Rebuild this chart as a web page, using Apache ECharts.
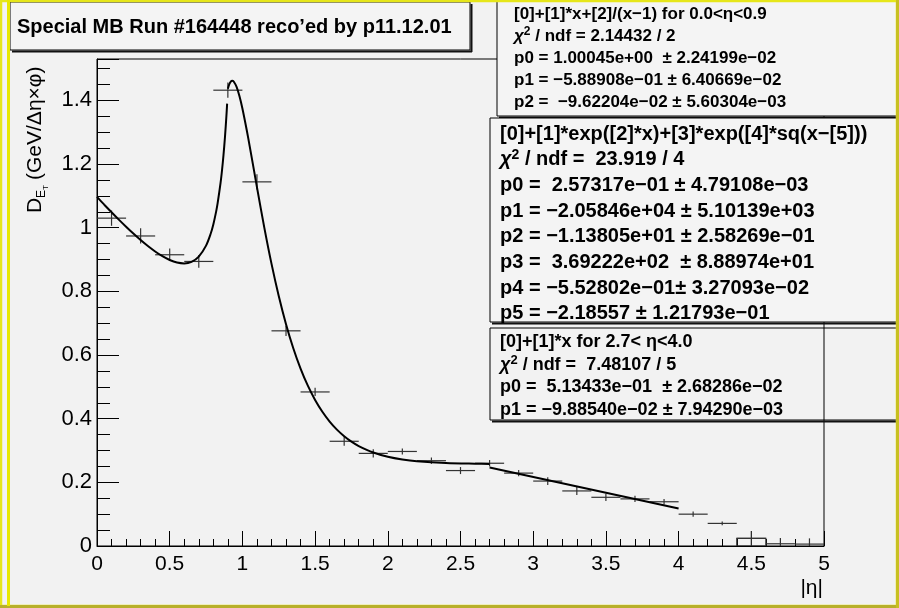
<!DOCTYPE html>
<html><head><meta charset="utf-8">
<script src="https://cdn.jsdelivr.net/npm/echarts@6/dist/echarts.min.js"></script>
<style>html,body{margin:0;padding:0;background:#f2f2f2;}#c{width:899px;height:608px;}</style>
</head><body><div id="c"></div>
<script>
// ---- data ----
const binCenters = [0.1,0.3,0.5,0.7,0.9,1.1,1.3,1.5,1.7,1.9,2.1,2.3,2.5,2.7,2.9,3.1,3.3,3.5,3.7,3.9,4.1,4.3,4.5,4.7,4.9];
const binValues  = [1.03,0.974,0.915,0.894,1.432,1.144,0.676,0.484,0.329,0.291,0.297,0.268,0.237,0.26,0.229,0.204,0.173,0.153,0.148,0.139,0.10,0.071,0.024,0.007,0.006];
const binErrors  = [0.024,0.024,0.02,0.02,0.024,0.024,0.016,0.013,0.014,0.013,0.0095,0.01,0.011,0.01,0.0095,0.012,0.0125,0.0115,0.01,0.009,0.008,0.006,0.023,0.018,0.018];
const binHalfWidth = 0.1;
const boxedBins = [4.5];

// fit curves (values of the drawn fit functions)
const fit1X = [0,0.05,0.1,0.15,0.2,0.25,0.3,0.35,0.4,0.45,0.5,0.55,0.6,0.65,0.7,0.75,0.78,0.8,0.82,0.83,0.85,0.86,0.87,0.88,0.89,0.895];
const fit1Y = [1.0967,1.0723,1.0485,1.0253,1.0030,0.9815,0.9612,0.9424,0.9253,0.9104,0.8984,0.8904,0.8877,0.8926,0.9089,0.9437,0.9785,1.0104,1.0521,1.0777,1.1414,1.1813,1.2283,1.2841,1.3511,1.3898];
const fit2X = [0.9,0.91,0.92,0.93,0.94,0.96,0.98,1.0,1.03,1.05,1.08,1.1,1.15,1.2,1.25,1.3,1.35,1.4,1.45,1.5,1.55,1.6,1.65,1.7,1.75,1.8,1.9,2.0,2.1,2.2,2.4,2.6,2.7];
const fit2Y = [1.4364,1.4511,1.4592,1.4616,1.4592,1.4421,1.4127,1.3744,1.3062,1.2565,1.1792,1.1276,1.0020,0.8870,0.7851,0.6968,0.6213,0.5574,0.5037,0.4589,0.4217,0.3910,0.3657,0.3450,0.3279,0.3141,0.2936,0.2803,0.2717,0.2662,0.2606,0.2585,0.2580];
const fit3X = [2.7,4.0];
const fit3Y = [0.2465,0.1180];

const titleText = 'Special MB Run #164448 reco\u2019ed by p11.12.01';
const box1Lines = ['[0]+[1]*x+[2]/(x\u22121) for 0.0<\u03b7<0.9','{i|\u03c7}{s|2} / ndf = 2.14432 / 2','p0 = 1.00045e+00  \u00b1 2.24199e\u221202','p1 = \u22125.88908e\u221201 \u00b1 6.40669e\u221202','p2 =  \u22129.62204e\u221202 \u00b1 5.60304e\u221203'];
const box2Lines = ['[0]+[1]*exp([2]*x)+[3]*exp([4]*sq(x\u2212[5]))','{i|\u03c7}{s|2} / ndf =  23.919 / 4','p0 =  2.57317e\u221201 \u00b1 4.79108e\u221203','p1 = \u22122.05846e+04 \u00b1 5.10139e+03','p2 = \u22121.13805e+01 \u00b1 2.58269e\u221201','p3 =  3.69222e+02  \u00b1 8.88974e+01','p4 = \u22125.52802e\u221201\u00b1 3.27093e\u221202','p5 = \u22122.18557 \u00b1 1.21793e\u221201'];
const box3Lines = ['[0]+[1]*x for 2.7< \u03b7<4.0','{i|\u03c7}{s|2} / ndf =  7.48107 / 5','p0 =  5.13433e\u221201  \u00b1 2.68286e\u221202','p1 = \u22129.88540e\u221202 \u00b1 7.94290e\u221203'];

const FONT = '"Liberation Sans", Arial, Helvetica, sans-serif';
const chart = echarts.init(document.getElementById('c'), null, {renderer:'canvas'});

function zipXY(xs, ys){ return xs.map((x,i)=>[x, ys[i]]); }
const pointData = binCenters.map((x,i)=>[x, binValues[i], binErrors[i], boxedBins.indexOf(x) >= 0 ? 1 : 0]);

function textLines(lines, x, y0, dy, size, z){
  return lines.map((t,i)=>({
    type:'text', x:x, y:y0 + i*dy, z:z, silent:true,
    style:{text:t, font:'bold '+size+'px '+FONT, fill:'#000', verticalAlign:'middle',
      rich:{i:{fontStyle:'italic', fontWeight:'bold', fontSize:size, fontFamily:FONT, fill:'#000'},
            s:{fontSize:Math.round(size*0.7), fontWeight:'bold', fontFamily:FONT, fill:'#000', verticalAlign:'top', padding:[0,0,Math.round(size*0.5),0]}}}
  }));
}

function boxGraphic(x, y, w, h, fill, z){
  return [
    {type:'rect', shape:{x:x, y:y, width:w, height:h}, style:{fill:fill, stroke:'#000', lineWidth:1}, z:z, silent:true},
    {type:'line', shape:{x1:x+2, y1:y+h+1.5, x2:x+w+2, y2:y+h+1.5}, style:{stroke:'#111', lineWidth:2}, z:z, silent:true},
    {type:'line', shape:{x1:x+w+1.5, y1:y+2, x2:x+w+1.5, y2:y+h+2}, style:{stroke:'#111', lineWidth:2}, z:z, silent:true}
  ];
}

const graphics = [].concat(
  // outer bevel border
  [{type:'rect', shape:{x:1, y:1, width:896, height:605}, style:{fill:'none', stroke:'#e6e61a', lineWidth:2.5}, z:200, silent:true},
   {type:'line', shape:{x1:0, y1:606.5, x2:899, y2:606.5}, style:{stroke:'#b8b02a', lineWidth:3}, z:201, silent:true},
   {type:'line', shape:{x1:897.5, y1:0, x2:897.5, y2:608}, style:{stroke:'#c8c020', lineWidth:3}, z:201, silent:true},
   {type:'line', shape:{x1:8.5, y1:0, x2:8.5, y2:606}, style:{stroke:'#e8e800', lineWidth:3}, z:201, silent:true}],
  // title box
  boxGraphic(10, 2, 460, 48, '#f4f4f4', 50),
  [{type:'text', x:17, y:27, z:60, silent:true, style:{text:titleText, font:'bold 20px '+FONT, fill:'#000', verticalAlign:'middle'}}],
  boxGraphic(497, -2, 410, 118, '#f4f4f4', 50),
  textLines(box1Lines, 514, 14, 22.2, 17, 60),
  boxGraphic(490, 118, 420, 204, '#f4f4f4', 50),
  textLines(box2Lines, 500, 134, 25.7, 20, 60),
  boxGraphic(490, 328, 420, 92, 'rgba(0,0,0,0)', 50),
  textLines(box3Lines, 500, 342, 22.7, 18, 60),
  // y axis title
  [{type:'group', x:35, y:213, rotation:Math.PI/2, z:60, silent:true, children:[
     {type:'text', x:0, y:0, style:{text:'D', font:'21px '+FONT, fill:'#000', verticalAlign:'middle'}},
     {type:'text', x:15, y:7, style:{text:'E', font:'12px '+FONT, fill:'#000', verticalAlign:'middle'}},
     {type:'text', x:23, y:11, style:{text:'T', font:'8px '+FONT, fill:'#000', verticalAlign:'middle'}},
     {type:'text', x:33, y:0, style:{text:'(GeV/\u0394\u03b7\u00d7\u03c6)', font:'21px '+FONT, fill:'#000', verticalAlign:'middle'}}
  ]}],
  // x axis title
  [{type:'text', x:823, y:588, z:60, silent:true, style:{text:'|\u03b7|', font:'21px '+FONT, fill:'#000', align:'right', verticalAlign:'middle'}}]
);

chart.setOption({
  backgroundColor:'#f2f2f2',
  animation:false,
  grid:{left:97, right:75, top:59, bottom:62, show:true, borderColor:'#000', borderWidth:1, backgroundColor:'#f2f2f2'},
  xAxis:{type:'value', min:0, max:5, interval:0.5,
    axisLine:{lineStyle:{color:'#000', width:1}},
    axisTick:{inside:true, length:15, lineStyle:{color:'#000'}},
    minorTick:{show:true, splitNumber:5, length:7, lineStyle:{color:'#000'}},
    splitLine:{show:false},
    axisLabel:{fontSize:21, fontFamily:FONT, color:'#000', margin:8}},
  yAxis:{type:'value', min:0, max:1.53, interval:0.2,
    axisLine:{show:true, lineStyle:{color:'#000', width:1}},
    axisTick:{inside:true, length:22, lineStyle:{color:'#000'}},
    minorTick:{show:true, splitNumber:4, length:13, lineStyle:{color:'#000'}},
    splitLine:{show:false},
    axisLabel:{fontSize:22, fontFamily:FONT, color:'#000', margin:5, showMaxLabel:false}},
  graphic:graphics,
  series:[
    {type:'custom', data:pointData, clip:true, z:3,
     renderItem:function(params, api){
       const x=api.value(0), y=api.value(1), e=api.value(2), boxed=api.value(3);
       const l=api.coord([x-binHalfWidth,y]), r=api.coord([x+binHalfWidth,y]);
       const t=api.coord([x,y+e]), b=api.coord([x,Math.max(0,y-e)]);
       const st={stroke:'#333', lineWidth:1.2};
       const ch=[
         {type:'line', shape:{x1:l[0],y1:l[1],x2:r[0],y2:r[1]}, style:st},
         {type:'line', shape:{x1:t[0],y1:t[1],x2:b[0],y2:b[1]}, style:st}];
       if(boxed){
         const p0=api.coord([x-binHalfWidth,y]), p1=api.coord([x+binHalfWidth,0]);
         ch.push({type:'rect', shape:{x:p0[0],y:p0[1],width:p1[0]-p0[0],height:p1[1]-p0[1]}, style:{fill:'none',stroke:'#333',lineWidth:1.2}});
       }
       return {type:'group', children:ch};
     }},
    {type:'line', data:zipXY(fit1X,fit1Y), showSymbol:false, smooth:0.3, lineStyle:{color:'#000', width:2}, z:4},
    {type:'line', data:zipXY(fit2X,fit2Y), showSymbol:false, smooth:0.3, lineStyle:{color:'#000', width:2}, z:4},
    {type:'line', data:zipXY(fit3X,fit3Y), showSymbol:false, lineStyle:{color:'#000', width:2}, z:4}
  ]
});
</script>
</body></html>
